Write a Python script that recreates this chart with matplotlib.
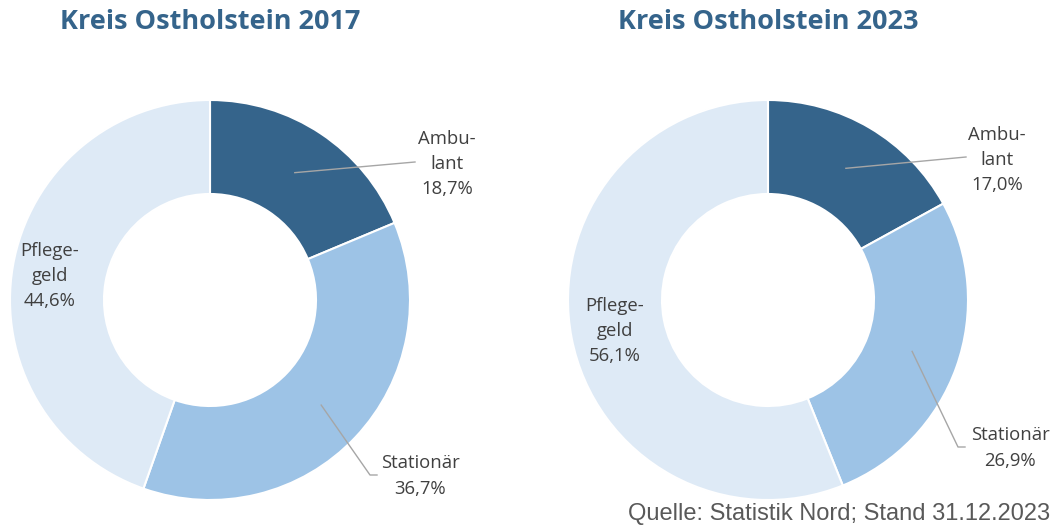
import numpy as np
import matplotlib
matplotlib.use("Agg")
import matplotlib.pyplot as plt

# Data
categories = ["Ambulant", "Stationär", "Pflegegeld"]
label_texts = ["Ambu-\nlant", "Stationär", "Pflege-\ngeld"]
values_2017 = [18.7, 36.7, 44.6]
values_2023 = [17.0, 26.9, 56.1]
titles = ["Kreis Ostholstein 2017", "Kreis Ostholstein 2023"]
source = "Quelle: Statistik Nord; Stand 31.12.2023"

colors = ["#35648B", "#9DC3E6", "#DEEAF6"]
title_color = "#35648B"
text_color = "#404040"
line_color = "#A6A6A6"

W, H = 1061, 530
fig = plt.figure(figsize=(W / 100, H / 100), dpi=100)

R = 200  # outer radius in px
ring_width = 0.47


def fmt(v):
    return f"{v:.1f}".replace(".", ",") + "%"


# label layout (pixel offsets of label centers relative to donut center), per chart
layouts = [
    {  # 2017
        "center": (210, 300),
        "labels": [(237, -136), (210, 176), (-160, -24)],
        "leader": [True, True, False],
        "ends": [(205, -138), (167, 175)],
    },
    {  # 2023
        "center": (768, 300),
        "labels": [(229, -140), (242, 148), (-153, 31)],
        "leader": [True, True, False],
        "ends": [(198, -143), (197, 147)],
    },
]

for vals, title, lay in zip([values_2017, values_2023], titles, layouts):
    cx, cy = lay["center"]
    ax = fig.add_axes([(cx - R) / W, (H - cy - R) / H, 2 * R / W, 2 * R / H])
    wedges, _ = ax.pie(vals, colors=colors, startangle=90, counterclock=False,
                       radius=1.0, frame=False,
                       wedgeprops=dict(width=ring_width, edgecolor="white", linewidth=1.5))
    ax.set_xlim(-1, 1)
    ax.set_ylim(-1, 1)
    ax.set_aspect("equal")
    ax.axis("off")
    cum = np.cumsum([0] + vals[:-1])
    for i, (cat, txt, v) in enumerate(zip(categories, label_texts, vals)):
        lx, ly = lay["labels"][i]
        tx, ty = lx / R, -ly / R
        ax.text(tx, ty, txt + "\n" + fmt(v), ha="center", va="center", ma="center",
                fontsize=13.3, color=text_color, family=["Open Sans", "DejaVu Sans"],
                linespacing=1.5, clip_on=False)
        if lay["leader"][i]:
            mid = np.deg2rad(90 - (cum[i] + v / 2) / 100 * 360)
            r0 = 0.765
            sx, sy = r0 * np.cos(mid), r0 * np.sin(mid)
            ex, ey = lay["ends"][i]
            ex, ey = ex / R, -ey / R
            if i == 1:
                ax.plot([sx, ex - 0.035, ex], [sy, ey, ey], color=line_color, lw=1,
                        clip_on=False, zorder=5)
            else:
                ax.plot([sx, ex], [sy, ey], color=line_color, lw=1, clip_on=False, zorder=5)
    fig.text(cx / W, 1 - 22 / H, title, ha="center", va="center", fontsize=19.5,
             fontweight="bold", color=title_color, family=["Open Sans", "DejaVu Sans"])

fig.text(1050 / W, 1 - 514 / H, source, ha="right", va="center", fontsize=17,
         color="#595959", family=["Liberation Sans", "DejaVu Sans"])

fig.savefig("out.png", dpi=100)
